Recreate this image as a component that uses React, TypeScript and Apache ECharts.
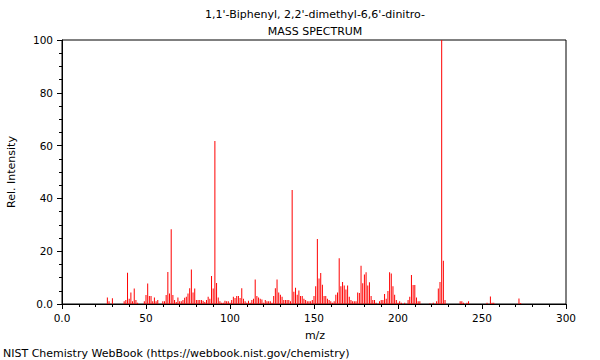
import React, { useEffect, useRef } from "react";
import * as echarts from "echarts";

const mz = [27, 28, 30, 37, 38, 39, 40, 41, 42, 43, 44, 45, 49, 50, 51, 52, 53, 54, 55, 56, 57, 60, 61, 62, 63, 64, 65, 66, 67, 68, 69, 70, 71, 72, 73, 74, 75, 76, 77, 78, 79, 80, 81, 82, 83, 84, 85, 86, 87, 88, 89, 90, 91, 92, 93, 94, 95, 96, 97, 98, 99, 100, 101, 102, 103, 104, 105, 106, 107, 108, 109, 110, 111, 112, 113, 114, 115, 116, 117, 118, 119, 120, 121, 122, 123, 124, 125, 126, 127, 128, 129, 130, 131, 132, 133, 134, 135, 136, 137, 138, 139, 140, 141, 142, 143, 144, 145, 146, 147, 148, 149, 150, 151, 152, 153, 154, 155, 156, 157, 158, 159, 160, 161, 162, 163, 164, 165, 166, 167, 168, 169, 170, 171, 172, 173, 174, 175, 176, 177, 178, 179, 180, 181, 182, 183, 184, 185, 186, 187, 189, 190, 191, 192, 193, 194, 195, 196, 197, 198, 199, 200, 201, 202, 204, 206, 207, 208, 209, 210, 211, 212, 213, 219, 221, 223, 224, 225, 226, 227, 228, 237, 238, 239, 241, 242, 253, 255, 256, 257, 272, 273];
const intensity = [2.5, 1, 2.2, 1, 1.5, 11.8, 2, 4.4, 1, 5.9, 1.5, 0.5, 1, 3.4, 7.8, 3, 3, 1, 2.5, 1, 1.5, 1, 1, 3.4, 12.1, 4, 28.3, 3.4, 1.5, 0.8, 2.5, 1, 1, 1.5, 2.4, 2.7, 4, 6, 13.1, 4.4, 5.9, 1.5, 1.5, 1.5, 1.5, 1.2, 0.8, 1.5, 2.7, 2, 10.6, 5.9, 61.7, 8, 2.5, 1, 0.5, 0.5, 1.2, 1, 1, 0.5, 1.5, 2.7, 2.3, 3, 3, 2.3, 6, 2, 1, 0.5, 1.2, 0.5, 1.5, 2, 9.3, 3, 2.5, 2, 1.7, 0.5, 1.5, 1, 1, 1, 0.5, 3, 6, 9.3, 4.4, 3.5, 2.7, 1.5, 1.5, 1.5, 1.5, 1, 43.2, 4.6, 6.2, 3.5, 5.1, 3, 3, 2, 1.5, 1, 1, 1, 1.5, 3, 6.7, 24.6, 9.7, 11.7, 7.3, 3, 3, 2, 1.5, 1, 0.5, 1, 3.5, 4.4, 17.3, 6.7, 8.3, 7, 5.5, 7, 2.7, 1.5, 1, 1, 1, 4.4, 4.2, 14.5, 7.9, 11.2, 12, 7, 8.2, 3, 1.5, 1.5, 0.5, 1, 1.5, 1.5, 3.8, 2, 4.9, 12, 11.6, 6.7, 3.5, 1.5, 0.5, 1, 0.5, 0.5, 1.5, 2.7, 11, 7.2, 7.2, 2.5, 1, 1, 0.3, 0.5, 1, 5.9, 8.3, 100, 16.4, 1.5, 1, 1, 0.5, 0.5, 1, 0.5, 2.8, 0.5, 0.5, 2.1, 0.4];

const titleLines = ["1,1'-Biphenyl, 2,2'-dimethyl-6,6'-dinitro-", "MASS SPECTRUM"];
const xName = "m/z";
const yName = "Rel. Intensity";
const footer = "NIST Chemistry WebBook (https://webbook.nist.gov/chemistry)";

const FONT = "DejaVu Sans";

export default function App() {
  const ref = useRef<HTMLDivElement>(null);
  useEffect(() => {
    if (!ref.current) return;
    const chart = echarts.init(ref.current, null, { renderer: "svg" });
    const fmt = (v: number) => (v === 0 ? "0.0" : String(v));
    const txt = (text: string, x: number, y: number, align: string, extra: any = {}) => ({
      type: "text",
      x,
      y,
      ...extra,
      style: { text, fontSize: 11, fontFamily: FONT, fill: "#000", align, verticalAlign: "middle" },
    });
    chart.setOption({
      animation: false,
      backgroundColor: "#fff",
      grid: { left: 62, right: 34, top: 40, bottom: 56, show: true, borderColor: "#000", borderWidth: 1 },
      xAxis: {
        type: "value",
        min: 0,
        max: 300,
        interval: 50,
        axisLine: { lineStyle: { color: "#000" } },
        axisTick: { length: 5, lineStyle: { color: "#000" } },
        minorTick: { show: true, splitNumber: 5, length: 3, lineStyle: { color: "#000" } },
        splitLine: { show: false },
        axisLabel: { formatter: fmt, fontSize: 10.5, fontFamily: FONT, color: "#000", margin: 8 },
      },
      yAxis: {
        type: "value",
        min: 0,
        max: 100,
        interval: 20,
        axisLine: { show: true, lineStyle: { color: "#000" } },
        axisTick: { show: true, length: 5, lineStyle: { color: "#000" } },
        minorTick: { show: true, splitNumber: 4, length: 3, lineStyle: { color: "#000" } },
        splitLine: { show: false },
        axisLabel: { formatter: fmt, fontSize: 10.5, fontFamily: FONT, color: "#000", margin: 9 },
      },
      series: [
        {
          type: "bar",
          barWidth: 1,
          data: mz.map((m, i) => [m, intensity[i]]),
          itemStyle: { color: "#ff0000" },
        },
      ],
      graphic: [
        txt(titleLines[0], 315, 14, "center"),
        txt(titleLines[1], 315, 31, "center"),
        txt(xName, 315, 335, "center"),
        txt(yName, 11, 172, "center", { rotation: Math.PI / 2 }),
        txt(footer, 3, 353, "left"),
      ],
    });
    return () => chart.dispose();
  }, []);
  return <div ref={ref} style={{ position: "fixed", left: 0, top: 0, width: 600, height: 360 }} />;
}
